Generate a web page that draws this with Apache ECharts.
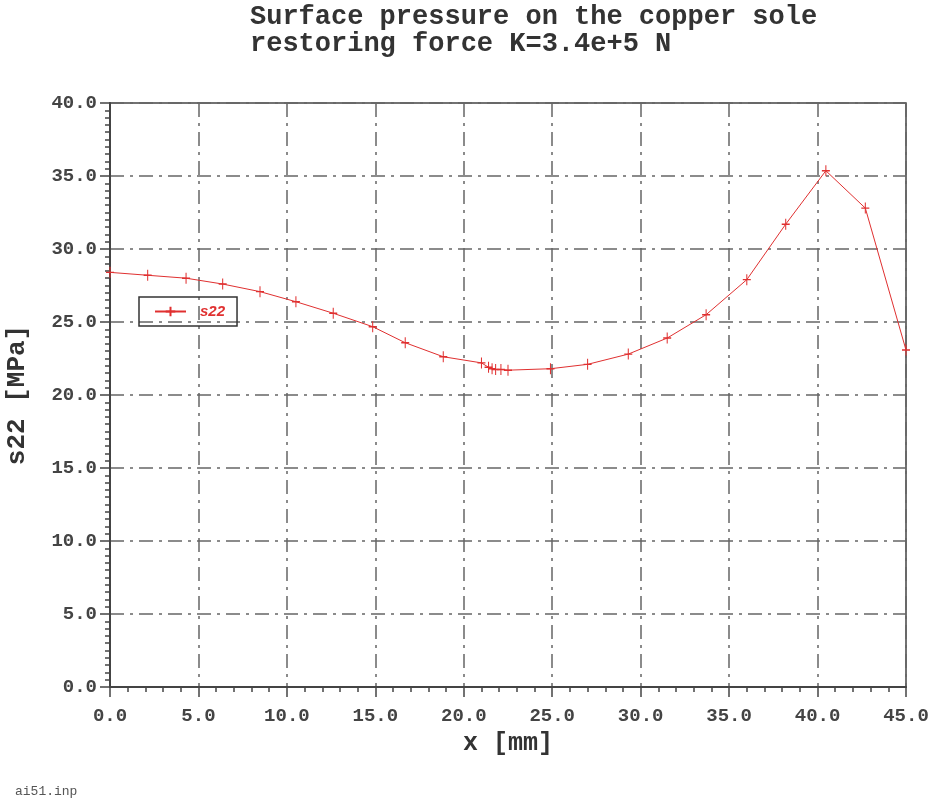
<!DOCTYPE html>
<html>
<head>
    <meta charset="utf-8">
    <script src="https://cdn.jsdelivr.net/npm/echarts@6/dist/echarts.min.js"></script>
</head>
<body style="margin:0; background:#fff;">
    <div id="main" style="width:931px; height:798px;"></div>
</body>
	<script type="text/javascript">
		// x position along the sole [mm] and surface pressure s22 [MPa]
		var xPos = [0, 2.13, 4.3, 6.37, 8.48, 10.51, 12.62, 14.85, 16.69, 18.84,
			21.0, 21.4, 21.6, 21.8, 22.1, 22.5, 24.9, 27.0, 29.3, 31.5,
			33.7, 36.0, 38.2, 40.47, 42.7, 45.0];
		var s22 = [28.4, 28.2, 28.0, 27.6, 27.08, 26.39, 25.6, 24.68, 23.58, 22.62,
			22.2, 21.9, 21.8, 21.75, 21.75, 21.7, 21.8, 22.1, 22.8, 23.9,
			25.5, 27.9, 31.7, 35.36, 32.8, 23.08];
		var titleLines = ['Surface pressure on the copper sole', 'restoring force K=3.4e+5 N'];

		var pts = [];
		for (var i = 0; i < xPos.length; i++) {
			pts.push([xPos[i], s22[i]]);
		}

		var mono = 'Liberation Mono';
		var gridLine = { color: '#666', width: 1.5, type: [14, 6, 3, 6] };
		var crossPath = 'path://M5,0L5,12M0,6L10,6';

        var myChart = echarts.init(document.getElementById('main'));
      	option = {
			animation: false,
			backgroundColor: '#fff',
			title: [{
				text: titleLines.join('\n'),
				left: 245,
				top: -1,
				textStyle: { fontFamily: mono, fontSize: 27, fontWeight: 'bold', color: '#333', lineHeight: 27 }
			}, {
				text: 'ai51.inp',
				left: 10,
				top: 780,
				textStyle: { fontFamily: mono, fontSize: 13, fontWeight: 'normal', color: '#555' }
			}],
			legend: {
				left: 139,
				top: 297,
				orient: 'vertical',
				itemWidth: 31,
				itemHeight: 12,
				padding: [7, 12, 7, 15],
				borderColor: '#333',
				borderWidth: 1.5,
				borderRadius: 0,
				textStyle: {
					fontFamily: 'Liberation Sans', fontSize: 15, fontStyle: 'italic', fontWeight: 'bold',
					color: '#e03030', padding: [0, 0, 0, 9]
				},
				data: ['s22']
			},
			grid: {
				left: 110,
				right: 25,
				top: 103,
				bottom: 111,
				outerBoundsMode: 'none',
				show: true,
				borderColor: '#444',
				borderWidth: 1.5
			},
			xAxis: {
				type: 'value',
				min: 0,
				max: 45,
				interval: 5,
				name: 'x [mm]',
				nameLocation: 'middle',
				nameGap: 44,
				nameTextStyle: { fontFamily: mono, fontSize: 25, fontWeight: 'bold', color: '#333' },
				axisLine: { show: true, lineStyle: { color: '#444', width: 2 } },
				axisTick: { show: true, length: 10, lineStyle: { color: '#444', width: 1.5 } },
				minorTick: { show: true, splitNumber: 5, length: 5, lineStyle: { color: '#444', width: 1.5 } },
				axisLabel: {
					margin: 20,
					fontFamily: mono, fontSize: 19, fontWeight: 'bold', color: '#444',
					formatter: function (v) { return v.toFixed(1); }
				},
				splitLine: { show: true, lineStyle: gridLine }
			},
			yAxis: {
				type: 'value',
				min: 0,
				max: 40,
				interval: 5,
				name: 's22 [MPa]',
				nameLocation: 'middle',
				nameGap: 80,
				nameTextStyle: { fontFamily: mono, fontSize: 26, fontWeight: 'bold', color: '#333' },
				axisLine: { show: true, lineStyle: { color: '#444', width: 2 } },
				axisTick: { show: true, length: 10, lineStyle: { color: '#444', width: 1.5 } },
				minorTick: { show: true, splitNumber: 10, length: 5, lineStyle: { color: '#444', width: 1.5 } },
				axisLabel: {
					margin: 13,
					fontFamily: mono, fontSize: 19, fontWeight: 'bold', color: '#444',
					formatter: function (v) { return v.toFixed(1); }
				},
				splitLine: { show: true, lineStyle: gridLine }
			},
			series: [{
				name: 's22',
				type: 'line',
				data: pts,
				smooth: false,
				symbol: crossPath,
				symbolSize: [8, 11],
				lineStyle: { color: '#e03030', width: 1 },
				itemStyle: { color: 'transparent', borderColor: '#e03030', borderWidth: 1.2 }
			}]
		};
        myChart.setOption(option);
    </script>
</html>
